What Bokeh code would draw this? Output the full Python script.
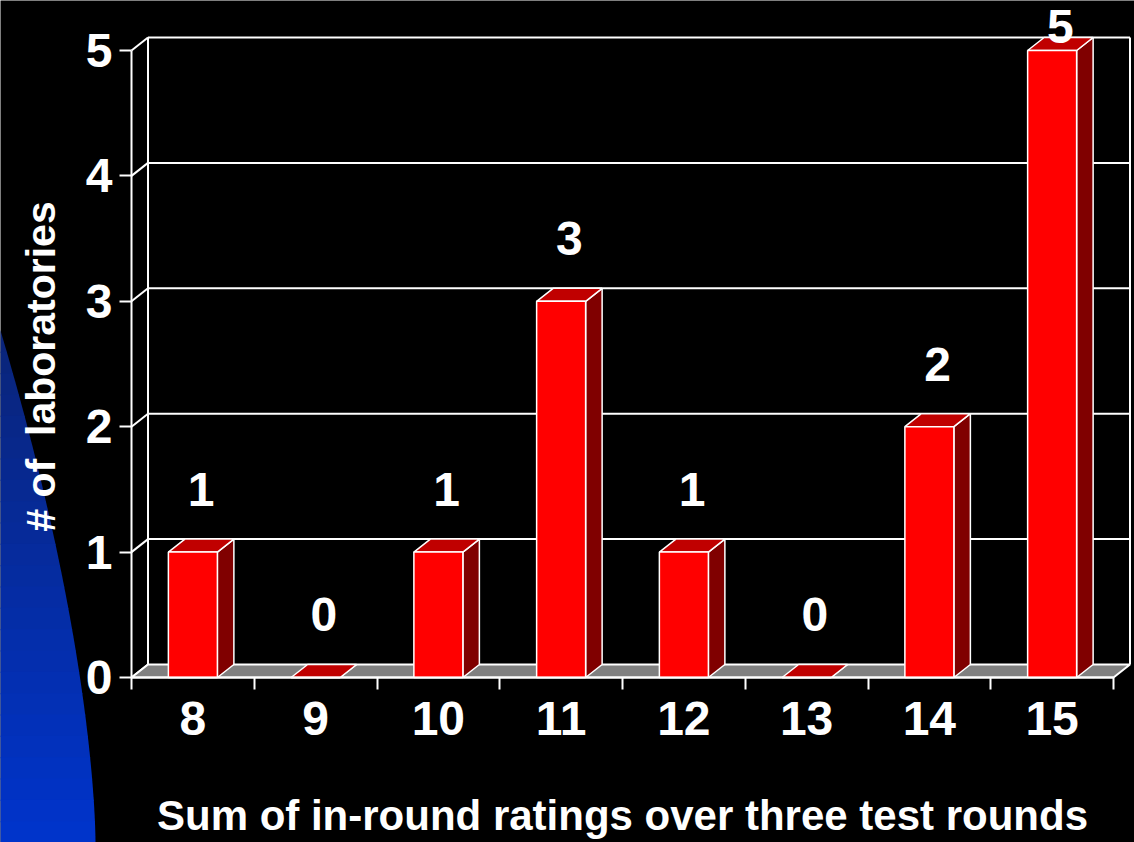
from bokeh.plotting import figure
from bokeh.models import FixedTicker, Range1d
from bokeh.core.properties import value
from bokeh.embed import file_html
from bokeh.resources import INLINE

# ---- data -------------------------------------------------------------
scores = [8, 9, 10, 11, 12, 13, 14, 15]          # sum of in-round ratings
labs = [1, 0, 1, 3, 1, 0, 2, 5]                  # number of laboratories
y_ticks = [0, 1, 2, 3, 4, 5]
x_title = "Sum of in-round ratings over three test rounds"
y_title = "# of \u00a0laboratories"

# ---- layout constants ---------------------------------------------------
FONT = "'Liberation Sans', Arial, sans-serif"
W, H = 1134, 842
LEFT, BOTTOM = 131, 165      # position of the front axes corner on the page
PX_X = 122.75                # pixels per category
PX_Y = 125.4                 # pixels per laboratory
DX = 16.5 / PX_X             # depth of the 3-D box, x direction
DY = 13.0 / PX_Y             # depth of the 3-D box, y direction
HALF = 24.5 / PX_X           # half width of a bar's front face

x0, x1 = scores[0] - 0.5, scores[-1] + 0.5
y_top = y_ticks[-1]

# the frame covers the whole page; axes are pinned with fixed_location
p = figure(width=W, height=H,
           x_range=Range1d(x0 - LEFT / PX_X, x0 + (W - LEFT) / PX_X),
           y_range=Range1d(-BOTTOM / PX_Y, (H - BOTTOM) / PX_Y),
           output_backend="svg", toolbar_location=None,
           min_border=0,
           background_fill_color="black", border_fill_color="black",
           outline_line_color=None)
p.grid.visible = False


def page_to_data(px, py):
    """Convert a page pixel position to data coordinates."""
    return x0 + (px - LEFT) / PX_X, (H - BOTTOM - py) / PX_Y


# ---- blue slide decoration on the left edge -----------------------------
def edge_x(py):
    t = (py - 330.0) / (H - 330.0)
    return 95.0 * (1.0 - (1.0 - t) ** 1.6)


c_top = (10, 36, 120)
c_bot = (0, 52, 204)
n_bands = 24
band_xs, band_ys, band_cols = [], [], []
for i in range(n_bands):
    ya = 330.0 + (H - 330.0) * i / n_bands
    yb = min(330.0 + (H - 330.0) * (i + 1) / n_bands + 1.0, H + 2)
    pts = []
    for k in range(7):
        yy = ya + (yb - ya) * k / 6
        pts.append((edge_x(min(yy, H)), yy))
    poly = [(-5.0, ya)] + pts + [(-5.0, yb)]
    xs, ys = zip(*[page_to_data(a, b) for a, b in poly])
    band_xs.append(list(xs))
    band_ys.append(list(ys))
    f = (i + 0.5) / n_bands
    col = tuple(int(round(c_top[j] + (c_bot[j] - c_top[j]) * f)) for j in range(3))
    band_cols.append("#%02x%02x%02x" % col)
p.patches(xs=band_xs, ys=band_ys, fill_color=band_cols, line_color=None)

# ---- back wall and side wall ---------------------------------------------
grid_v = y_ticks[1:]
p.segment(x0=[x0 + DX] * len(grid_v), y0=[v + DY for v in grid_v],
          x1=[x1 + DX] * len(grid_v), y1=[v + DY for v in grid_v],
          line_color="white", line_width=2)
p.segment(x0=[x0] * len(y_ticks), y0=y_ticks,
          x1=[x0 + DX] * len(y_ticks), y1=[v + DY for v in y_ticks],
          line_color="white", line_width=2)
p.segment(x0=[x0 + DX, x1 + DX], y0=[DY, DY],
          x1=[x0 + DX, x1 + DX], y1=[y_top + DY, y_top + DY],
          line_color="white", line_width=2)

# ---- floor ------------------------------------------------------------
p.patch(x=[x0, x1, x1 + DX, x0 + DX], y=[0, 0, DY, DY],
        fill_color="#808080", line_color="white", line_width=2)

# ---- 3-D bars -----------------------------------------------------------
lefts = [s - HALF for s in scores]
rights = [s + HALF for s in scores]
side_xs = [[r, r + DX, r + DX, r] for r in rights]
side_ys = [[0, DY, v + DY, v] for v in labs]
top_xs = [[l, r, r + DX, l + DX] for l, r in zip(lefts, rights)]
top_ys = [[v, v, v + DY, v + DY] for v in labs]

p.patches(xs=side_xs, ys=side_ys, fill_color="#800000",
          line_color="white", line_width=1.5)
p.patches(xs=top_xs, ys=top_ys, fill_color="#c00000",
          line_color="white", line_width=1.5)
p.quad(left=lefts, right=rights, bottom=[0] * len(labs), top=labs,
       fill_color="#ff0000", line_color="white", line_width=1.5)

# ---- value labels -------------------------------------------------------
lab_y = [min(v + 0.5, y_top + 0.19) for v in labs]
p.text(x=[s + DX / 2 for s in scores], y=lab_y, text=[str(v) for v in labs],
       text_font=value(FONT), text_font_size="48px", text_font_style="bold",
       text_color="white", text_align="center", text_baseline="middle")

# ---- axis titles --------------------------------------------------------
_, ty_x = page_to_data(0, 815)
p.text(x=[(x0 + x1) / 2], y=[ty_x], text=[x_title],
       text_font=value(FONT), text_font_size="42px", text_font_style="bold",
       text_color="white", text_align="center", text_baseline="middle")
tx_y, ty_y = page_to_data(40, 366)
p.text(x=[tx_y], y=[ty_y], text=[y_title], angle=90, angle_units="deg",
       text_font=value(FONT), text_font_size="41px", text_font_style="bold",
       text_color="white", text_align="center", text_baseline="middle")

# ---- axes ---------------------------------------------------------------
for ax in (p.xaxis[0], p.yaxis[0]):
    ax.axis_line_color = "white"
    ax.axis_line_width = 2
    ax.major_tick_line_color = "white"
    ax.major_tick_line_width = 2
    ax.minor_tick_line_color = "white"
    ax.minor_tick_line_width = 2
    ax.major_label_text_color = "white"
    ax.major_label_text_font = FONT
    ax.major_label_text_font_size = "48px"
    ax.major_label_text_font_style = "bold"

ya = p.yaxis[0]
ya.fixed_location = x0
ya.ticker = FixedTicker(ticks=y_ticks)
ya.bounds = (0, y_top)
ya.major_tick_out = 12
ya.major_tick_in = 0
ya.minor_tick_out = 0
ya.minor_tick_in = 0
ya.major_label_standoff = 7

xa = p.xaxis[0]
xa.fixed_location = 0
xa.ticker = FixedTicker(ticks=scores,
                        minor_ticks=[s - 0.5 for s in scores] + [x1])
xa.bounds = (x0, x1)
xa.major_tick_out = 0
xa.major_tick_in = 0
xa.minor_tick_out = 12
xa.minor_tick_in = 0
xa.major_label_standoff = 12

open("out.html", "w").write(file_html(p, INLINE))
